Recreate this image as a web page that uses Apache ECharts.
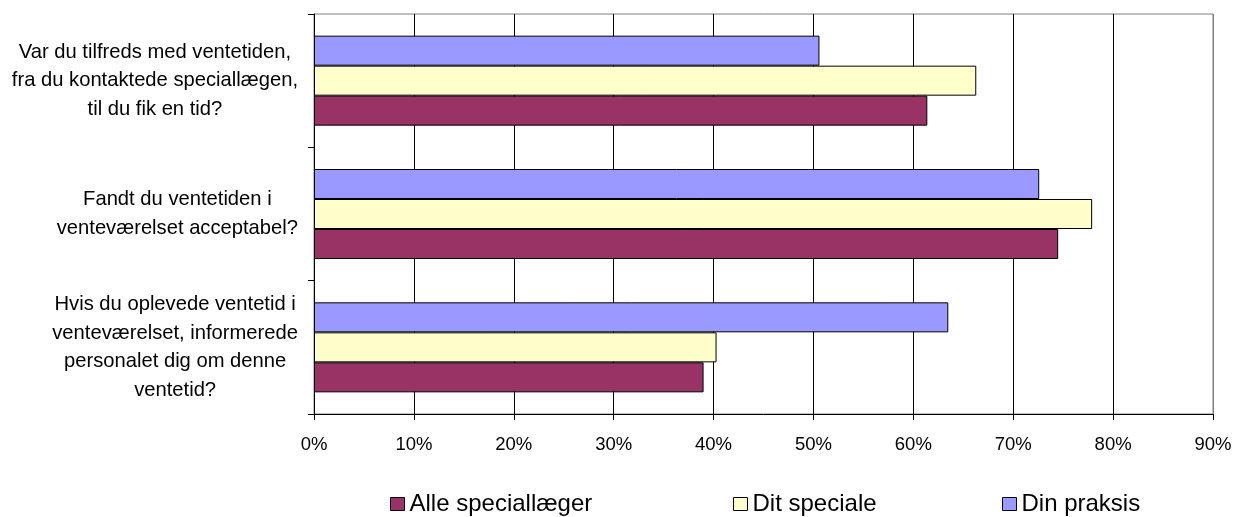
<!DOCTYPE html>
<html>
<head>
<meta charset="utf-8">
<script src="https://cdn.jsdelivr.net/npm/echarts@6/dist/echarts.min.js"></script>
<style>
  html, body { margin: 0; padding: 0; background: #fff; }
  #chart { width: 1237px; height: 517px; }
</style>
</head>
<body>
<div id="chart"></div>
<script>
// Questions (top to bottom), shown as centred multi-line labels
const categories = [
  'Var du tilfreds med ventetiden,\nfra du kontaktede speciallægen,\ntil du fik en tid?',
  'Fandt du ventetiden i\nventeværelset acceptabel?',
  'Hvis du oplevede ventetid i\nventeværelset, informerede\npersonalet dig om denne\nventetid?'
];

// Legend order (left to right)
const seriesNames = ['Alle speciallæger', 'Dit speciale', 'Din praksis'];

// Share of satisfied answers, in percent
const alleSpeciallaeger = [61.4, 74.5, 39.0];
const ditSpeciale = [66.3, 77.9, 40.3];
const dinPraksis = [50.6, 72.6, 63.5];

const xTicks = { min: 0, max: 90, interval: 10 };

const FONT = '"Liberation Sans", Arial, sans-serif';
const colorByName = {
  'Alle speciallæger': '#993366',
  'Dit speciale': '#FFFFCC',
  'Din praksis': '#9999FF'
};
const valuesByName = {
  'Alle speciallæger': alleSpeciallaeger,
  'Dit speciale': ditSpeciale,
  'Din praksis': dinPraksis
};

// Within each group the first series sits on top, so stack them in reverse legend order
const barOrder = seriesNames.slice().reverse();

const chart = echarts.init(document.getElementById('chart'), null, { renderer: 'canvas' });

const legendLefts = [385, 728, 997];

chart.setOption({
  animation: false,
  backgroundColor: '#fff',
  grid: {
    left: 314, right: 24, top: 14, bottom: 103,
    outerBoundsMode: 'none',
    containLabel: false,
    show: true, borderColor: '#808080', borderWidth: 1, backgroundColor: 'transparent'
  },
  legend: seriesNames.map((name, i) => ({
    data: [name],
    left: legendLefts[i],
    top: 487,
    itemWidth: 14,
    itemHeight: 13,
    icon: 'rect',
    itemStyle: { borderColor: '#000', borderWidth: 1 },
    textStyle: { fontSize: 24, color: '#000', fontFamily: FONT }
  })),
  xAxis: {
    type: 'value',
    min: xTicks.min, max: xTicks.max, interval: xTicks.interval,
    axisLine: { show: true, lineStyle: { color: '#000', width: 1 } },
    axisTick: { show: true, length: 6, lineStyle: { color: '#000' } },
    axisLabel: {
      formatter: '{value}%', fontSize: 18.5, color: '#000', fontFamily: FONT, margin: 21
    },
    splitLine: {
      show: true,
      lineStyle: { color: ['#000', '#000', '#000', '#000', '#000', '#000', '#000', '#000', '#000', '#808080'], width: 1 }
    }
  },
  yAxis: {
    type: 'category',
    data: categories,
    inverse: true,
    axisLine: { show: true, lineStyle: { color: '#000', width: 1 } },
    axisTick: { show: true, length: 6, lineStyle: { color: '#000' } },
    axisLabel: {
      margin: 16,
      color: '#000',
      fontSize: 20.2,
      lineHeight: 28.5,
      fontFamily: FONT,
      formatter: v => v.split('\n').map(line => '{c|' + line + '}').join('\n'),
      rich: {
        c: { align: 'center', fontSize: 20.2, lineHeight: 28.5, fontFamily: FONT, color: '#000' }
      }
    },
    splitLine: { show: false }
  },
  series: barOrder.map(name => ({
    name,
    type: 'bar',
    data: valuesByName[name],
    barGap: '0%',
    barCategoryGap: '32.5%',
    itemStyle: { color: colorByName[name], borderColor: '#000', borderWidth: 1 }
  }))
});
</script>
</body>
</html>
